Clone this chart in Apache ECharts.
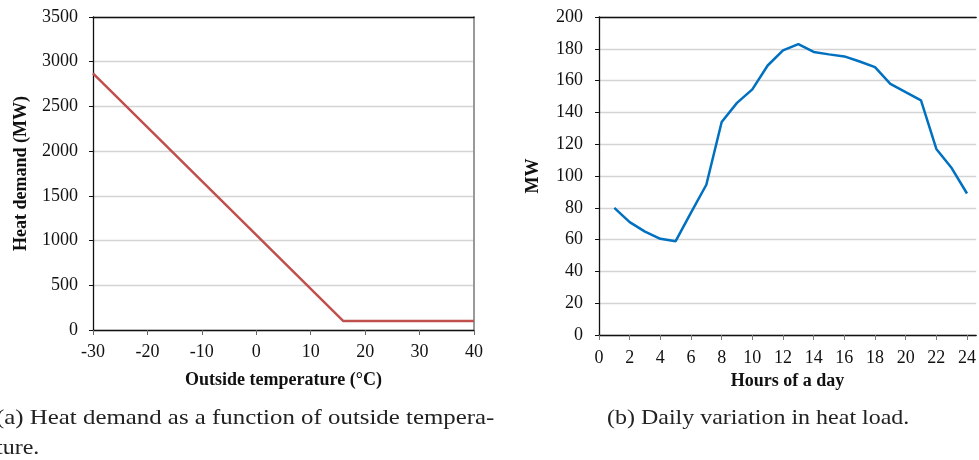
<!DOCTYPE html>
<html>
<head>
<meta charset="utf-8">
<script src="https://cdn.jsdelivr.net/npm/echarts@6/dist/echarts.min.js"></script>
<style>
html,body{margin:0;padding:0;background:#fff;}
#c{width:979px;height:460px;}
</style>
</head>
<body>
<div id="c"></div>
<script>
// Chart (a): heat demand vs outside temperature
const tempX = [-30, 16, 40];
const demandMW = [2870, 100, 100];
const tempTicks = [-30, -20, -10, 0, 10, 20, 30, 40];
const demandTicks = [0, 500, 1000, 1500, 2000, 2500, 3000, 3500];

// Chart (b): daily variation in heat load
const hours = [1,2,3,4,5,6,7,8,9,10,11,12,13,14,15,16,17,18,19,20,21,22,23,24];
const loadMW = [80, 71, 65, 60.5, 59, 77, 94.5, 134, 146, 154.5, 169.5, 179, 183, 178, 176.5, 175.2, 172, 168.5, 158, 152.7, 147.5, 117, 105, 89];
const hourTicks = [0,2,4,6,8,10,12,14,16,18,20,22,24];
const loadTicks = [0,20,40,60,80,100,120,140,160,180,200];

const SERIF = 'Liberation Serif';
const chart = echarts.init(document.getElementById('c'), null, {renderer: 'canvas'});

const labelStyle = {fontFamily: SERIF, fontSize: 18, color: '#111', formatter: v => String(v)};
const nameStyle = {fontFamily: SERIF, fontSize: 18, fontWeight: 'bold', color: '#111'};

chart.setOption({
  animation: false,
  backgroundColor: '#fff',
  grid: [
    {left: 93, right: 505, top: 17, bottom: 130},
    {left: 599, right: 0, top: 17, bottom: 125}
  ],
  xAxis: [
    {
      gridIndex: 0, type: 'value', min: -30, max: 40, interval: 10,
      name: 'Outside temperature (°C)', nameLocation: 'middle', nameGap: 41,
      nameTextStyle: nameStyle,
      axisLine: {show: true, onZero: false, lineStyle: {color: '#111', width: 1.3}},
      axisTick: {show: true, length: 5, lineStyle: {color: '#666'}},
      axisLabel: Object.assign({margin: 13, customValues: tempTicks}, labelStyle),
      splitLine: {show: false}
    },
    {
      gridIndex: 0, type: 'value', min: -30, max: 40, position: 'top',
      axisLine: {show: true, onZero: false, lineStyle: {color: '#111', width: 1.3}},
      axisTick: {show: false}, axisLabel: {show: false}, splitLine: {show: false}
    },
    {
      gridIndex: 1, type: 'value', min: 0, max: 24.6,
      name: 'Hours of a day', nameLocation: 'middle', nameGap: 36,
      nameTextStyle: nameStyle,
      axisLine: {show: true, onZero: false, lineStyle: {color: '#111', width: 1.3}},
      axisTick: {show: true, length: 5, customValues: hourTicks, lineStyle: {color: '#777'}},
      axisLabel: Object.assign({margin: 14, customValues: hourTicks}, labelStyle),
      splitLine: {show: false}
    },
    {
      gridIndex: 1, type: 'value', min: 0, max: 24.6, position: 'top',
      axisLine: {show: true, onZero: false, lineStyle: {color: '#111', width: 1.3}},
      axisTick: {show: false}, axisLabel: {show: false}, splitLine: {show: false}
    }
  ],
  yAxis: [
    {
      gridIndex: 0, type: 'value', min: 0, max: 3500, interval: 500,
      name: 'Heat demand (MW)', nameLocation: 'middle', nameGap: 63,
      nameTextStyle: nameStyle,
      axisLine: {show: true, onZero: false, lineStyle: {color: '#111', width: 1.3}},
      axisTick: {show: true, length: 4, lineStyle: {color: '#111'}},
      axisLabel: Object.assign({margin: 15, customValues: demandTicks}, labelStyle),
      splitLine: {show: true, lineStyle: {color: '#d4d4d4', width: 1.3}}
    },
    {
      gridIndex: 0, type: 'value', min: 0, max: 3500, position: 'right',
      axisLine: {show: true, onZero: false, lineStyle: {color: '#999', width: 2}},
      axisTick: {show: false}, axisLabel: {show: false}, splitLine: {show: false}
    },
    {
      gridIndex: 1, type: 'value', min: 0, max: 200, interval: 20,
      name: 'MW', nameLocation: 'middle', nameGap: 57,
      nameTextStyle: nameStyle,
      axisLine: {show: true, onZero: false, lineStyle: {color: '#111', width: 1.3}},
      axisTick: {show: true, length: 4, lineStyle: {color: '#111'}},
      axisLabel: Object.assign({margin: 16, customValues: loadTicks}, labelStyle),
      splitLine: {show: true, lineStyle: {color: '#d4d4d4', width: 1.3}}
    }
  ],
  series: [
    {
      type: 'line', xAxisIndex: 0, yAxisIndex: 0,
      data: tempX.map((t, i) => [t, demandMW[i]]),
      symbol: 'none', lineStyle: {color: '#c0504d', width: 2.5}
    },
    {
      type: 'line', xAxisIndex: 2, yAxisIndex: 2,
      data: hours.map((h, i) => [h, loadMW[i]]),
      symbol: 'none', lineStyle: {color: '#0070c0', width: 2.5}
    }
  ],
  graphic: [
    {type: 'text', x: -4, y: 407, scaleX: 1.13, style: {text: '(a) Heat demand as a function of outside tempera-', font: '22px "Liberation Serif"', fill: '#222'}},
    {type: 'text', x: -4, y: 437, scaleX: 1.09, style: {text: 'ture.', font: '22px "Liberation Serif"', fill: '#222'}},
    {type: 'text', x: 607, y: 407, scaleX: 1.09, style: {text: '(b) Daily variation in heat load.', font: '22px "Liberation Serif"', fill: '#222'}}
  ]
});
</script>
</body>
</html>
